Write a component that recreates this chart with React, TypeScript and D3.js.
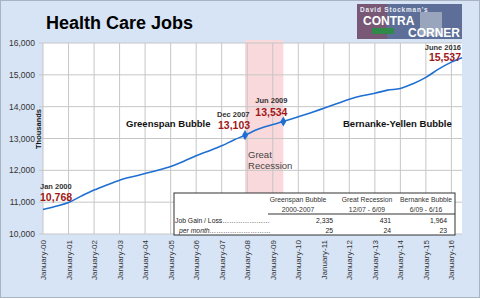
import * as d3 from 'd3';

const WIDTH = 480;
const HEIGHT = 299;

// monthly points (thousands)
const DATES = [
  '2000-01', '2000-07', '2001-01', '2001-07', '2002-01', '2002-07', '2003-01', '2003-07',
  '2004-01', '2004-07', '2005-01', '2005-07', '2006-01', '2006-07', '2007-01', '2007-07',
  '2007-12', '2008-06', '2009-01', '2009-06', '2010-01', '2010-07', '2011-01', '2011-07',
  '2012-01', '2012-07', '2013-01', '2013-07', '2014-01', '2014-07', '2015-01', '2015-07',
  '2016-01', '2016-06',
];
const JOBS = [
  10768, 10870, 10990, 11190, 11380, 11540, 11690, 11800,
  11900, 12000, 12120, 12280, 12460, 12610, 12770, 12960,
  13103, 13290, 13440, 13534, 13680, 13810, 13950, 14090,
  14230, 14340, 14420, 14520, 14570, 14720, 14920, 15180,
  15400, 15537,
];

const Y_TICKS = [10000, 11000, 12000, 13000, 14000, 15000, 16000];
const YEARS = d3.range(2000, 2017);

const CALLOUTS = [
  { date: '2000-01', label: 'Jan 2000', value: 10768 },
  { date: '2007-12', label: 'Dec 2007', value: 13103 },
  { date: '2009-06', label: 'Jun 2009', value: 13534 },
  { date: '2016-06', label: 'June 2016', value: 15537 },
];
const MARKERS = ['2007-12', '2009-06'];

const TABLE_HEAD = [
  ['Greenspan Bubble', '2000-2007'],
  ['Great Recession', '12/07 - 6/09'],
  ['Bernanke Bubble', '6/09 - 6/16'],
];
const JOB_GAIN = ['2,335', '431', '1,964'];
const PER_MONTH = ['25', '24', '23'];

const parse = d3.timeParse('%Y-%m');
const fmt = d3.format(',');

const BG = '#d7e4f5';
const BLUE = '#1f6fd3';
const RED = '#a01818';
const FONT = 'Arial, "Liberation Sans", sans-serif';

export default function App() {
  const plot = { left: 43, right: 462, top: 43, bottom: 234 };

  const x = d3.scaleTime()
    .domain([parse('2000-01') as Date, parse('2016-06') as Date])
    .range([plot.left, plot.right]);
  const y = d3.scaleLinear().domain([10000, 16000]).range([plot.bottom, plot.top]);

  const points = DATES.map((d, i) => ({ date: parse(d) as Date, value: JOBS[i] }));
  const line = d3.line<{ date: Date; value: number }>()
    .x(d => x(d.date))
    .y(d => y(d.value))
    .curve(d3.curveMonotoneX);

  const recStart = x(parse('2007-12') as Date);
  const recEnd = x(parse('2009-06') as Date);

  const pos = (date: string) => {
    const p = points.find(q => q.date.getTime() === (parse(date) as Date).getTime());
    return p ? { px: x(p.date), py: y(p.value) } : { px: 0, py: 0 };
  };

  const jan = pos('2000-01');
  const dec = pos('2007-12');
  const jun = pos('2009-06');
  const end = pos('2016-06');

  // table layout
  const tb = { left: 174, right: 455, top: 193, bottom: 235 };
  const colCenter = [298, 367, 426];
  const colRight = [333, 391, 447];

  return (
    <>
      <style>{'body{margin:0}'}</style>
      <svg width={WIDTH} height={HEIGHT} style={{ display: 'block', fontFamily: FONT }}>
        <rect x={0.5} y={0.5} width={WIDTH - 1} height={HEIGHT - 2} fill={BG} stroke="#a9b4c2" />
        <rect x={plot.left} y={plot.top} width={plot.right - plot.left} height={plot.bottom - plot.top} fill="#ffffff" />

        {/* recession band */}
        <rect x={recStart} y={40} width={recEnd - recStart} height={plot.bottom - 40} fill="#f9d9db" />

        {/* grid */}
        {YEARS.map(yr => {
          const gx = x(new Date(yr, 0, 1));
          return <line key={yr} x1={gx} x2={gx} y1={plot.top} y2={plot.bottom} stroke="#c6c6c6" strokeWidth={1} />;
        })}
        {Y_TICKS.map(t => (
          <line key={t} x1={plot.left - 4} x2={plot.right} y1={y(t)} y2={y(t)} stroke="#c6c6c6" strokeWidth={1} />
        ))}

        {/* y axis labels */}
        {Y_TICKS.map(t => (
          <text key={t} x={35} y={y(t) + 3} textAnchor="end" fontSize={8.5} fill="#333">{fmt(t)}</text>
        ))}
        <text transform={`translate(41,129) rotate(-90)`} textAnchor="middle" fontSize={7.5} fontWeight="bold" fill="#111">Thousands</text>

        {/* x axis labels */}
        {YEARS.map(yr => {
          const gx = x(new Date(yr, 0, 1));
          return (
            <text key={yr} transform={`translate(${gx + 3},240) rotate(-90)`} textAnchor="end" fontSize={8} fill="#333">
              {`January-${String(yr % 100).padStart(2, '0')}`}
            </text>
          );
        })}

        {/* series */}
        <path d={line(points) ?? ''} fill="none" stroke={BLUE} strokeWidth={1.6} />
        {MARKERS.map(m => {
          const p = pos(m);
          return <path key={m} d={d3.symbol(d3.symbolDiamond, 30)() ?? ''} transform={`translate(${p.px},${p.py})`} fill={BLUE} />;
        })}

        {/* callouts */}
        <text x={jan.px - 3} y={189} fontSize={7.5} fontWeight="bold" fill="#333">{CALLOUTS[0].label}</text>
        <text x={jan.px - 3} y={201} fontSize={10.5} fontWeight="bold" fill={RED}>{fmt(CALLOUTS[0].value)}</text>
        <text x={dec.px - 28} y={117} fontSize={7.5} fontWeight="bold" fill="#333">{CALLOUTS[1].label}</text>
        <text x={dec.px - 27} y={129} fontSize={10.5} fontWeight="bold" fill={RED}>{fmt(CALLOUTS[1].value)}</text>
        <text x={jun.px - 28} y={103} fontSize={7.5} fontWeight="bold" fill="#333">{CALLOUTS[2].label}</text>
        <text x={jun.px - 28} y={116} fontSize={10.5} fontWeight="bold" fill={RED}>{fmt(CALLOUTS[2].value)}</text>
        <text x={end.px - 1} y={50} textAnchor="end" fontSize={7.5} fontWeight="bold" fill="#333">{CALLOUTS[3].label}</text>
        <text x={end.px - 1} y={61} textAnchor="end" fontSize={10.5} fontWeight="bold" fill={RED}>{fmt(CALLOUTS[3].value)}</text>

        <text x={126} y={127} fontSize={9.5} fontWeight="bold" fill="#111">Greenspan Bubble</text>
        <text x={343} y={127} fontSize={9.5} fontWeight="bold" fill="#111">Bernanke-Yellen Bubble</text>
        <text x={recStart + 3} y={158} fontSize={9.5} fill="#444">Great</text>
        <text x={recStart + 3} y={169} fontSize={9.5} fill="#444">Recession</text>

        {/* summary table */}
        <rect x={tb.left} y={tb.top} width={tb.right - tb.left} height={tb.bottom - tb.top} fill="#ffffff" stroke="#333" strokeWidth={1} />
        <line x1={268} x2={tb.right} y1={214} y2={214} stroke="#333" strokeWidth={1} />
        {TABLE_HEAD.map((h, i) => (
          <g key={i}>
            <text x={colCenter[i]} y={202} textAnchor="middle" fontSize={6.8} fill="#333">{h[0]}</text>
            <text x={colCenter[i]} y={212} textAnchor="middle" fontSize={6.8} fill="#333">{h[1]}</text>
            <text x={colRight[i]} y={223} textAnchor="end" fontSize={6.8} fill="#222">{JOB_GAIN[i]}</text>
            <text x={colRight[i]} y={233} textAnchor="end" fontSize={6.8} fill="#222">{PER_MONTH[i]}</text>
          </g>
        ))}
        <text x={175} y={223} fontSize={6.8} fill="#222">Job Gain / Loss…………………</text>
        <text x={179} y={233} fontSize={6.8} fontStyle="italic" fill="#222">per month………………………</text>

        {/* title */}
        <text x={46} y={29} fontSize={18} fontWeight="bold" fill="#000">Health Care Jobs</text>

        {/* logo */}
        <g>
          <rect x={357} y={4} width={105} height={35} fill="#5d6f98" />
          <rect x={357} y={4} width={30} height={35} fill="#8a4a5e" opacity={0.6} />
          <rect x={420} y={12} width={22} height={24} fill="#c9d1dc" opacity={0.55} />
          <text x={360} y={12} fontSize={6.5} fontWeight="bold" fill="#e8ecf4" letterSpacing={0.8}>David Stockman's</text>
          <text x={363} y={25} fontSize={12} fontWeight="bold" fill="#ffffff">CONTRA</text>
          <rect x={372} y={28} width={22} height={6} fill="#2f8a4a" />
          <text x={460} y={37} textAnchor="end" fontSize={12} fontWeight="bold" fill="#ffffff">CORNER</text>
        </g>
      </svg>
    </>
  );
}
